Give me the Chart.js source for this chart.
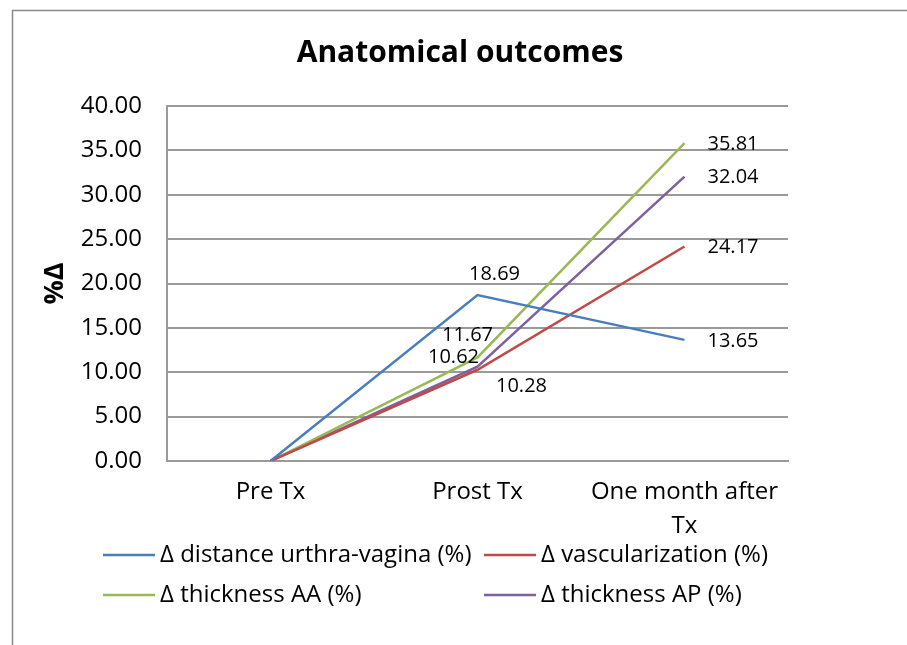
<!DOCTYPE html>
<html>
<head>
<meta charset="utf-8">
<script src="https://cdn.jsdelivr.net/npm/chart.js@4.4.1/dist/chart.umd.min.js"></script>
<style>
  html, body { margin: 0; padding: 0; background: #fff; }
  #wrap { width: 907px; height: 645px; position: relative; }
</style>
</head>
<body>
<div id="wrap"><canvas id="c" width="907" height="645"></canvas></div>
<script>
// ---- data ----
const categories = ['Pre Tx', 'Prost Tx', ['One month after', 'Tx']];
const seriesNames = [
  'Δ distance urthra-vagina (%)',
  'Δ vascularization (%)',
  'Δ thickness AA (%)',
  'Δ thickness AP (%)'
];
const distanceUV = [0, 18.69, 13.65];
const vascularization = [0, 10.28, 24.17];
const thicknessAA = [0, 11.67, 35.81];
const thicknessAP = [0, 10.62, 32.04];
const yTicks = { min: 0, max: 40, step: 5 };

// ---- styles ----
const FONT = "'Open Sans', Lato, 'Liberation Sans', sans-serif";
const colors = ['#4A7EBB', '#BE4B48', '#98B954', '#7D60A0'];
// label offsets from the point (dx, dy, align) per series & category
const labelOffsets = [
  [null, { dx: 17, dy: -21, align: 'center' }, { dx: 23, dy: 1, align: 'left' }],
  [null, { dx: 44, dy: 17, align: 'center' }, { dx: 23, dy: 1, align: 'left' }],
  [null, { dx: -10, dy: -22, align: 'center' }, { dx: 23, dy: 1, align: 'left' }],
  [null, { dx: -24, dy: -9, align: 'center' }, { dx: 23, dy: 1, align: 'left' }]
];

const seriesValues = [distanceUV, vascularization, thicknessAA, thicknessAP];

const framePlugin = {
  id: 'frame',
  beforeDraw(chart) {
    const ctx = chart.ctx;
    ctx.save();
    ctx.strokeStyle = '#8a8a8a';
    ctx.lineWidth = 1.5;
    ctx.strokeRect(12.5, 10.5, 1200, 1200);
    ctx.restore();
  }
};

const dataLabelPlugin = {
  id: 'dataLabels',
  afterDatasetsDraw(chart) {
    const ctx = chart.ctx;
    ctx.save();
    ctx.font = '20px ' + FONT;
    ctx.fillStyle = '#000';
    ctx.textBaseline = 'middle';
    chart.data.datasets.forEach((ds, di) => {
      const meta = chart.getDatasetMeta(di);
      meta.data.forEach((pt, i) => {
        const off = labelOffsets[di][i];
        if (!off) return;
        ctx.textAlign = off.align;
        ctx.fillText(ds.data[i].toFixed(2), pt.x + off.dx, pt.y + off.dy);
      });
    });
    ctx.restore();
  }
};

const legendPlugin = {
  id: 'customLegend',
  afterDraw(chart) {
    const ctx = chart.ctx;
    const cols = [103, 484];
    const rows = [555, 595];
    ctx.save();
    ctx.font = '24px ' + FONT;
    ctx.textBaseline = 'middle';
    ctx.textAlign = 'left';
    chart.data.datasets.forEach((ds, i) => {
      const x = cols[i % 2];
      const y = rows[Math.floor(i / 2)];
      ctx.strokeStyle = ds.borderColor;
      ctx.lineWidth = 2.5;
      ctx.beginPath();
      ctx.moveTo(x, y);
      ctx.lineTo(x + 52, y);
      ctx.stroke();
      ctx.fillStyle = '#000';
      ctx.fillText(ds.label, x + 57, y);
    });
    ctx.restore();
  }
};

new Chart(document.getElementById('c'), {
  type: 'line',
  data: {
    labels: categories,
    datasets: seriesValues.map((vals, i) => ({
      label: seriesNames[i],
      data: vals,
      borderColor: colors[i],
      backgroundColor: colors[i],
      borderWidth: 2.5,
      pointRadius: 0,
      pointHoverRadius: 0,
      tension: 0,
      fill: false
    }))
  },
  options: {
    responsive: false,
    animation: false,
    events: [],
    layout: { padding: { left: 13, right: 0, top: 20, bottom: 102 } },
    plugins: {
      legend: { display: false },
      tooltip: { enabled: false },
      title: {
        display: true,
        text: 'Anatomical outcomes',
        color: '#000',
        font: { family: FONT, size: 30, weight: 'bold', lineHeight: 1.2 },
        padding: { top: 15, bottom: 35 }
      }
    },
    scales: {
      x: {
        type: 'category',
        offset: true,
        grid: { display: false, drawTicks: false },
        border: { display: true, color: '#9a9a9a', width: 2 },
        ticks: {
          color: '#000',
          padding: 14,
          maxRotation: 0,
          autoSkip: false,
          font: { family: FONT, size: 24, lineHeight: 34 / 24 }
        },
        afterFit(scale) { scale.height = 82; }
      },
      y: {
        min: yTicks.min,
        max: yTicks.max,
        grid: { color: '#9a9a9a', lineWidth: 2, drawTicks: false },
        border: { display: true, color: '#9a9a9a', width: 2 },
        ticks: {
          stepSize: yTicks.step,
          color: '#000',
          padding: 25,
          font: { family: FONT, size: 24 },
          callback: v => Number(v).toFixed(2)
        },
        title: {
          display: true,
          text: '%Δ',
          color: '#000',
          font: { family: FONT, size: 27, weight: 'bold', lineHeight: 1.2 },
          padding: { top: 26, bottom: 4 }
        },
        afterFit(scale) { scale.width = 154; }
      },
      yRight: {
        type: 'linear',
        position: 'right',
        display: true,
        grid: { display: false, drawTicks: false },
        border: { display: false },
        ticks: { display: false },
        afterFit(scale) { scale.width = 119; }
      }
    }
  },
  plugins: [framePlugin, dataLabelPlugin, legendPlugin]
});
</script>
</body>
</html>
